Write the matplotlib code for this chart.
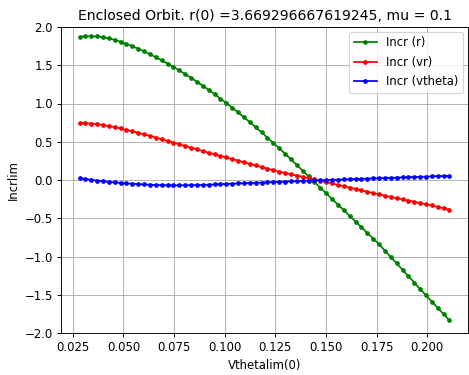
import numpy as np
import matplotlib
matplotlib.use('Agg')
import matplotlib.pyplot as plt

# vtheta(0) values of the sweep
vthetalim = [0.0283, 0.0312, 0.0341, 0.0370, 0.0399, 0.0428, 0.0457, 0.0486,
             0.0515, 0.0544, 0.0573, 0.0602, 0.0631, 0.0660, 0.0689, 0.0718,
             0.0747, 0.0776, 0.0805, 0.0834, 0.0863, 0.0892, 0.0921, 0.0950,
             0.0979, 0.1008, 0.1037, 0.1066, 0.1095, 0.1124, 0.1153, 0.1182,
             0.1211, 0.1240, 0.1269, 0.1298, 0.1327, 0.1356, 0.1385, 0.1414,
             0.1443, 0.1472, 0.1501, 0.1530, 0.1559, 0.1588, 0.1617, 0.1646,
             0.1675, 0.1704, 0.1733, 0.1762, 0.1791, 0.1820, 0.1849, 0.1878,
             0.1907, 0.1936, 0.1965, 0.1994, 0.2023, 0.2052, 0.2081, 0.2110]

incr_r = [1.869, 1.878, 1.880, 1.876, 1.866, 1.851, 1.832, 1.808,
          1.780, 1.749, 1.716, 1.681, 1.644, 1.605, 1.564, 1.521,
          1.478, 1.432, 1.384, 1.335, 1.284, 1.232, 1.178, 1.122,
          1.065, 1.006, 0.946, 0.884, 0.821, 0.756, 0.690, 0.623,
          0.554, 0.485, 0.415, 0.344, 0.270, 0.196, 0.122, 0.048,
          -0.025, -0.099, -0.173, -0.247, -0.321, -0.395, -0.469, -0.543,
          -0.617, -0.691, -0.765, -0.840, -0.923, -1.007, -1.090, -1.174,
          -1.257, -1.341, -1.424, -1.508, -1.590, -1.672, -1.754, -1.836]

incr_vr = [0.741, 0.742, 0.738, 0.730, 0.719, 0.706, 0.691, 0.674,
           0.656, 0.637, 0.617, 0.597, 0.576, 0.555, 0.533, 0.511,
           0.489, 0.467, 0.445, 0.423, 0.401, 0.379, 0.357, 0.336,
           0.315, 0.295, 0.274, 0.253, 0.232, 0.211, 0.190, 0.169,
           0.148, 0.127, 0.110, 0.092, 0.075, 0.058, 0.041, 0.024,
           0.007, -0.010, -0.027, -0.045, -0.063, -0.081, -0.099, -0.117,
           -0.135, -0.153, -0.171, -0.189, -0.205, -0.221, -0.237, -0.253,
           -0.269, -0.285, -0.301, -0.317, -0.333, -0.352, -0.370, -0.389]

incr_vtheta = [0.025, 0.013, 0.002, -0.008, -0.017, -0.025, -0.032, -0.038,
               -0.044, -0.049, -0.054, -0.058, -0.062, -0.065, -0.067, -0.069,
               -0.070, -0.070, -0.069, -0.068, -0.066, -0.064, -0.061, -0.058,
               -0.055, -0.051, -0.048, -0.045, -0.042, -0.039, -0.036, -0.033,
               -0.030, -0.027, -0.024, -0.021, -0.018, -0.015, -0.012, -0.009,
               -0.006, -0.004, -0.001, 0.002, 0.004, 0.007, 0.010, 0.012,
               0.015, 0.018, 0.020, 0.023, 0.026, 0.028, 0.031, 0.034,
               0.036, 0.039, 0.042, 0.044, 0.047, 0.050, 0.052, 0.055]

r0 = 3.669296667619245
mu = 0.1

dpi = 84
fig = plt.figure(figsize=(469/dpi, 375/dpi), dpi=dpi)
ax = fig.add_axes([61/469, 1-333/375, 407/469, 306/375])
ax.plot(vthetalim, incr_r, color='g', marker='.', label='Incr (r)')
ax.plot(vthetalim, incr_vr, color='r', marker='.', label='Incr (vr)')
ax.plot(vthetalim, incr_vtheta, color='b', marker='.', label='Incr (vtheta)')
ax.set_ylim(-2.0, 2.0)
ax.set_xticks([0.025, 0.05, 0.075, 0.1, 0.125, 0.15, 0.175, 0.2])
ax.grid(True)
ax.set_xlabel('Vthetalim(0)')
ax.set_ylabel('Incrlim')
ax.set_title('Enclosed Orbit. r(0) =' + str(r0) + ', mu = ' + str(mu))
ax.legend(loc='upper right', fontsize=10, borderaxespad=0.4, labelspacing=0.55)
fig.savefig('out.png', dpi=dpi)
